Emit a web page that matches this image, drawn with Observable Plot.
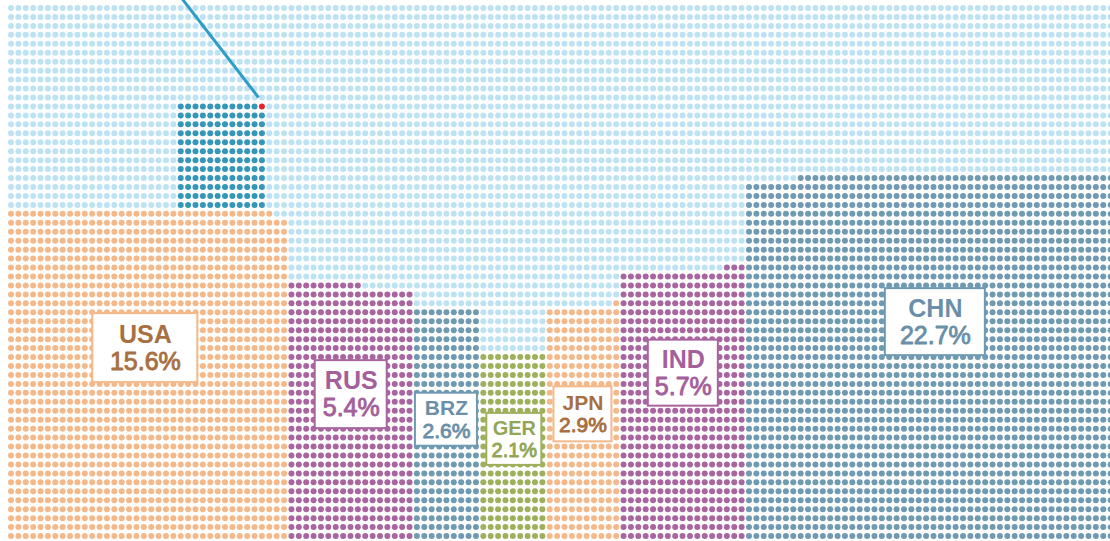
<!DOCTYPE html>
<html><head><meta charset="utf-8">
<script src="https://cdn.jsdelivr.net/npm/d3@7"></script>
<script src="https://cdn.jsdelivr.net/npm/@observablehq/plot@0.6"></script>
<style>html,body{margin:0;padding:0;background:#fff;} #chart svg{display:block;}</style>
</head><body><div id="chart"></div>
<script>
// ---- data ----
const countries = ["USA", "RUS", "BRZ", "GER", "JPN", "IND", "CHN"];
const shares = [15.6, 5.4, 2.6, 2.1, 2.9, 5.7, 22.7];          // percent
const blockColumns = [38, 17, 9, 9, 10, 17, 50];               // waffle width in dots
const remainderSide = ["left", "left", "left", "left", "right", "right", "right"];
const dotsPerPoint = 90;                                        // dots per percentage point
const gridColumns = 150, gridRows = 60;
const highlightDots = 144, highlightColumns = 12, highlightStartCol = 23; // stacked on USA

// ---- styles / layout ----
const dotColors = {USA: "#f4b98b", RUS: "#a8659f", BRZ: "#6f9ab1", GER: "#9fb05d", JPN: "#f4b98b", IND: "#a8659f", CHN: "#6f9ab1"};
const textColors = {USA: "#a86f42", RUS: "#a3609b", BRZ: "#6b8fa8", GER: "#93a555", JPN: "#a86f42", IND: "#a3609b", CHN: "#6b8fa8"};
const bgColor = "#bde2f4", hlColor = "#3596ba", redColor = "#e3262b", lineColor = "#2e9dc7";
const labelRow = [38.0, 43.2, 46.0, 48.2, 45.4, 40.8, 35.1];
const labelColShift = [-0.3, 0.1, 0, 0.2, 0, 0.1, 0.75];
const labelFont = [25, 25, 21, 20, 21, 25, 25];
const boxW = [105, 72, 62, 55, 58, 70, 100];
const boxH = [69, 68, 53, 52, 55, 66, 67];
const sx = 7.38, sy = 8.95, x0 = 10.5, y0 = 7.5, W = 1110, H = 541;

// ---- build grid ----
const cellColor = new Map();
const key = (c, r) => c + "," + r;
let start = 0;
const blocks = countries.map((name, i) => {
  const w = blockColumns[i];
  const n = Math.round(shares[i] * dotsPerPoint);
  const full = Math.floor(n / w), rem = n % w;
  for (let k = 0; k < full; k++)
    for (let c = start; c < start + w; c++) cellColor.set(key(c, gridRows - 1 - k), dotColors[name]);
  const rr = gridRows - 1 - full;
  const rs = remainderSide[i] === "left" ? start : start + w - rem;
  for (let c = rs; c < rs + rem; c++) cellColor.set(key(c, rr), dotColors[name]);
  const b = {name, i, start, end: start + w - 1, top: rem ? rr : rr + 1};
  start += w;
  return b;
});
// highlight block stacked above USA
const usa = blocks[0];
const hlBottom = usa.top - 1;
const hlRows = highlightDots / highlightColumns;
let redCell = null;
for (let k = 0; k < hlRows; k++)
  for (let c = highlightStartCol; c < highlightStartCol + highlightColumns; c++) {
    const r = hlBottom - k;
    const last = k === hlRows - 1 && c === highlightStartCol + highlightColumns - 1;
    cellColor.set(key(c, r), last ? redColor : hlColor);
    if (last) redCell = {c, r};
  }
const cells = [];
for (let r = 0; r < gridRows; r++)
  for (let c = 0; c < gridColumns; c++)
    cells.push({c, r, color: cellColor.get(key(c, r)) || bgColor});

const leader = [{x1: redCell.c - 0.46, y1: redCell.r - 1.0, x2: redCell.c - 12.66, y2: redCell.r - 14}];

const labels = blocks.map(b => ({
  name: b.name,
  pct: shares[b.i].toFixed(1) + "%",
  cx: (b.start + b.end) / 2 + labelColShift[b.i],
  cy: labelRow[b.i],
  w: boxW[b.i] / sx, h: boxH[b.i] / sy,
  fs: labelFont[b.i],
  stroke: dotColors[b.name], fill: textColors[b.name]
}));

const font = "'Liberation Sans', Arial, Helvetica, sans-serif";
const textMarks = [];
for (const l of labels) {
  textMarks.push(Plot.text([l], {x: "cx", y: d => d.cy - 0.54 * d.fs / sy, text: "name", fill: l.fill, fontSize: l.fs, fontWeight: "bold", fontFamily: font, lineAnchor: "middle"}));
  textMarks.push(Plot.text([l], {x: "cx", y: d => d.cy + 0.54 * d.fs / sy, text: "pct", fill: l.fill, fontSize: l.fs, fontWeight: "normal", fontFamily: font, lineAnchor: "middle", stroke: l.fill, strokeWidth: 0.9}));
}

const chart = Plot.plot({
  width: W, height: H,
  margin: 0,
  x: {domain: [-x0 / sx, (W - x0) / sx], range: [0, W], axis: null},
  y: {domain: [-y0 / sy, (H - y0) / sy], range: [0, H], axis: null},
  color: {type: "identity"},
  style: {background: "#fff"},
  marks: [
    Plot.dot(cells, {x: "c", y: "r", r: 3.0, fill: "color", stroke: null}),
    Plot.link(leader, {x1: "x1", y1: "y1", x2: "x2", y2: "y2", stroke: lineColor, strokeWidth: 3, clip: true}),
    Plot.rect(labels, {x1: d => d.cx - d.w / 2, x2: d => d.cx + d.w / 2, y1: d => d.cy - d.h / 2, y2: d => d.cy + d.h / 2, fill: "#fff", stroke: "stroke", strokeWidth: 2}),
    ...textMarks
  ]
});
document.getElementById("chart").appendChild(chart);
</script>
</body></html>
